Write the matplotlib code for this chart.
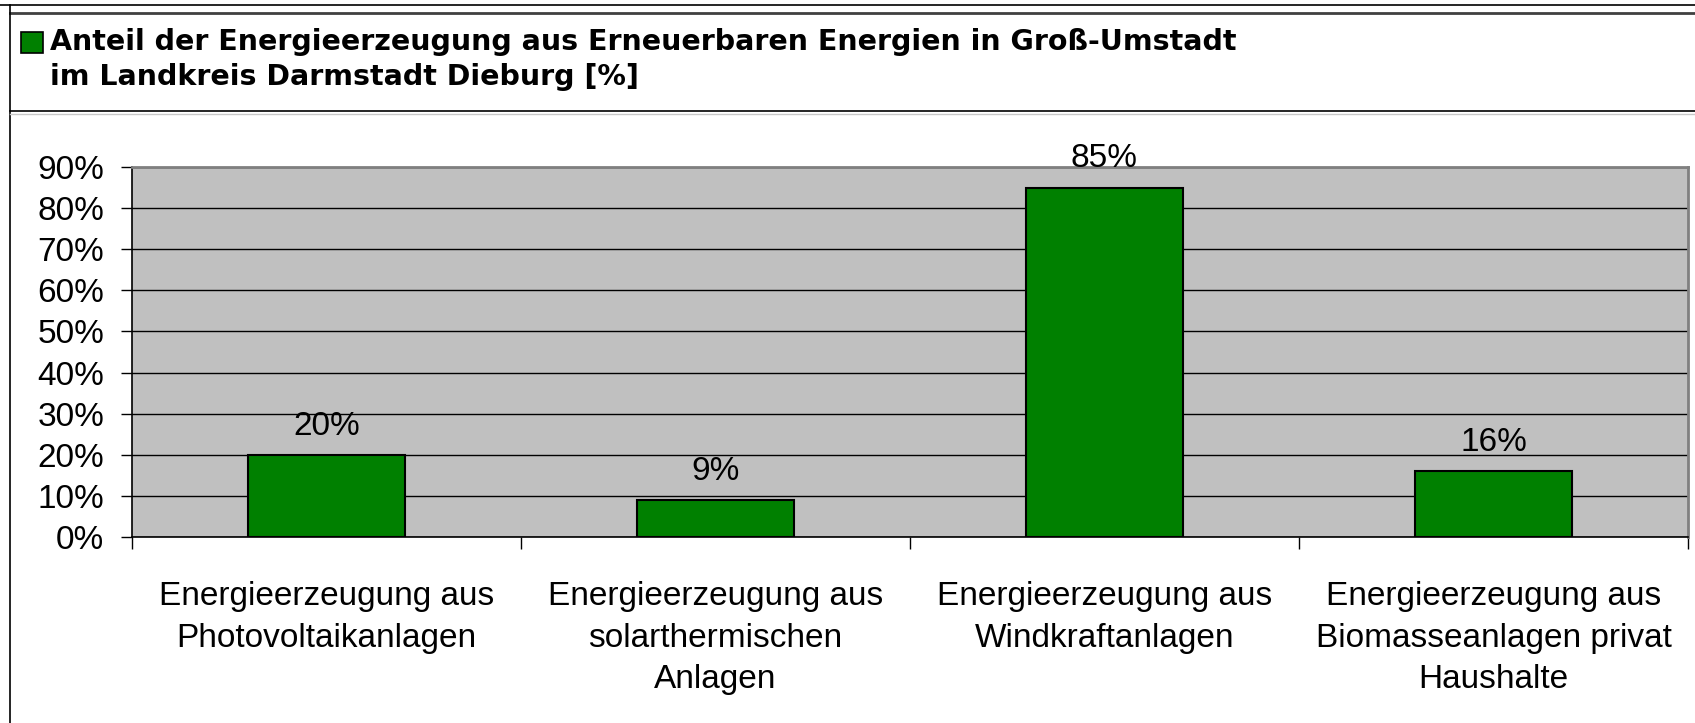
import matplotlib
matplotlib.use("Agg")
import matplotlib.pyplot as plt
from matplotlib.patches import Rectangle
from matplotlib.lines import Line2D
from matplotlib.ticker import FuncFormatter

plt.rcParams['font.family'] = ['Liberation Sans', 'DejaVu Sans']

categories = [
    "Energieerzeugung aus\nPhotovoltaikanlagen",
    "Energieerzeugung aus\nsolarthermischen\nAnlagen",
    "Energieerzeugung aus\nWindkraftanlagen",
    "Energieerzeugung aus\nBiomasseanlagen privat\nHaushalte",
]
values = [20, 9, 85, 16]
title_lines = [
    "Anteil der Energieerzeugung aus Erneuerbaren Energien in Groß-Umstadt",
    "im Landkreis Darmstadt Dieburg [%]",
]
yticks = [0, 10, 20, 30, 40, 50, 60, 70, 80, 90]

W, H = 1695, 723
fig = plt.figure(figsize=(W / 100, H / 100), dpi=100)
fig.patch.set_facecolor('white')

def fx(px):
    return px / W

def fy(py):
    return 1 - py / H

# frame lines
fig.add_artist(Line2D([0, 1], [fy(5), fy(5)], color='black', lw=1.2, transform=fig.transFigure))
fig.add_artist(Line2D([fx(10), 1], [fy(13), fy(13)], color='#404040', lw=2.0, transform=fig.transFigure))
fig.add_artist(Line2D([fx(10), fx(10)], [fy(5), 0], color='black', lw=1.2, transform=fig.transFigure))
fig.add_artist(Line2D([fx(10), 1], [fy(111), fy(111)], color='black', lw=1.2, transform=fig.transFigure))
fig.add_artist(Line2D([fx(10), 1], [fy(114), fy(114)], color='#c8c8c8', lw=1.0, transform=fig.transFigure))

# legend square + title
fig.add_artist(Rectangle((fx(21), fy(53)), fx(22), 21 / H, facecolor='#008000',
                         edgecolor='black', lw=1.2, transform=fig.transFigure))
title_font = dict(fontsize=20.5, fontweight='bold', family=['DejaVu Sans'],
                  va='baseline', ha='left')
fig.text(fx(50), fy(50), title_lines[0], **title_font)
fig.text(fx(50), fy(85), title_lines[1], **title_font)

# axes
left, right, top, bottom = 132, 1688, 167, 537
ax = fig.add_axes([fx(left), fy(bottom), fx(right - left), (bottom - top) / H])
ax.set_facecolor('#c0c0c0')
x = list(range(len(values)))
bars = ax.bar(x, values, width=0.405, color='#008000', edgecolor='black', linewidth=1.5, zorder=3)
ax.set_xlim(-0.5, len(values) - 0.5)
ax.set_ylim(0, 90)
ax.set_yticks(yticks)
ax.yaxis.set_major_formatter(FuncFormatter(lambda v, p: f"{int(v)}%"))
ax.grid(axis='y', color='black', lw=1.0, zorder=1)
ax.set_axisbelow(True)

ax.set_xticks(x)
ax.set_xticklabels(categories, fontsize=24, linespacing=1.43)
ax.set_xticks([i - 0.5 for i in range(len(values) + 1)], minor=True)
ax.tick_params(axis='x', which='major', length=0, pad=32)
ax.tick_params(axis='x', which='minor', length=8.5, width=1.0, direction='out', color='black')
ax.tick_params(axis='y', length=8, width=1.0, direction='out', labelsize=24, pad=12)

for s in ['top', 'right']:
    ax.spines[s].set_color('#808080')
    ax.spines[s].set_linewidth(2)
for s in ['left', 'bottom']:
    ax.spines[s].set_color('black')
    ax.spines[s].set_linewidth(1.2)

for xi, v in zip(x, values):
    ax.annotate(f"{v}%", (xi, v), xytext=(0, 14.5), textcoords='offset points',
                ha='center', va='baseline', fontsize=24, zorder=5, annotation_clip=False)

fig.savefig("out.png", dpi=100)
